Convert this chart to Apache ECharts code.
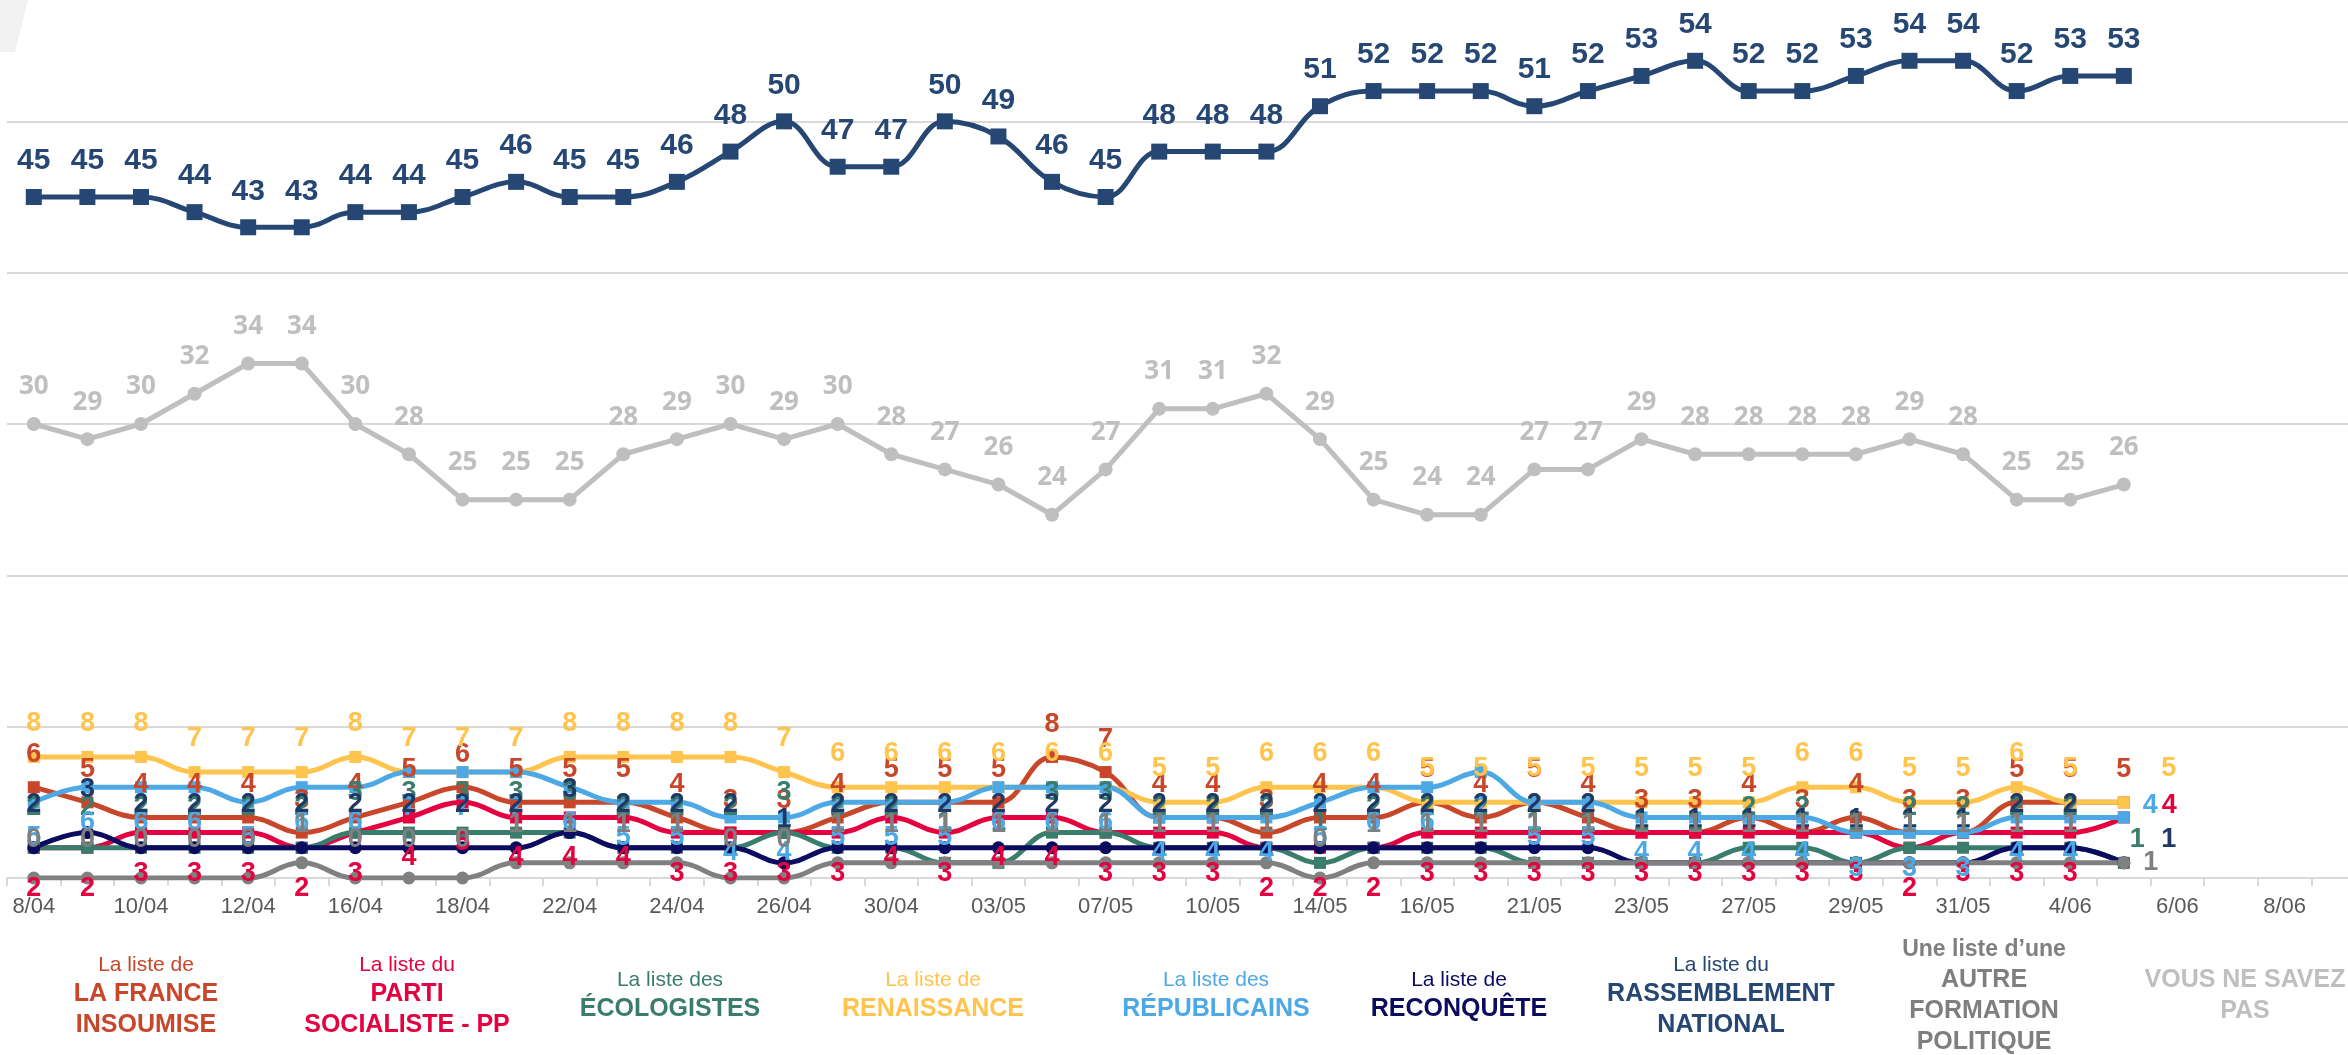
<!DOCTYPE html>
<html>
<head>
<meta charset="utf-8">
<title>Intentions de vote - liste en tête</title>
<script src="https://cdn.jsdelivr.net/npm/echarts@6/dist/echarts.min.js"></script>
<style>
  html, body { margin: 0; padding: 0; background: #fff; }
  #chart { width: 2348px; height: 1055px; }
</style>
</head>
<body>
<div id="chart"></div>
<script>
// vagues (une date sur deux est affichée sur l'axe)
let dates = ['8/04', '9/04', '10/04', '11/04', '12/04', '15/04', '16/04', '17/04', '18/04', '19/04',
  '22/04', '23/04', '24/04', '25/04', '26/04', '29/04', '30/04', '02/05', '03/05', '06/05',
  '07/05', '09/05', '10/05', '13/05', '14/05', '15/05', '16/05', '20/05', '21/05', '22/05',
  '23/05', '24/05', '27/05', '28/05', '29/05', '30/05', '31/05', '3/06', '4/06', '5/06',
  '6/06', '7/06', '8/06', '9/06']

let rn = [45, 45, 45, 44, 43, 43, 44, 44, 45, 46, 45, 45, 46, 48, 50, 47, 47, 50, 49, 46,
  45, 48, 48, 48, 51, 52, 52, 52, 51, 52, 53, 54, 52, 52, 53, 54, 54, 52, 53, 53]
let vnsp = [30, 29, 30, 32, 34, 34, 30, 28, 25, 25, 25, 28, 29, 30, 29, 30, 28, 27, 26, 24,
  27, 31, 31, 32, 29, 25, 24, 24, 27, 27, 29, 28, 28, 28, 28, 29, 28, 25, 25, 26]
let lfi = [6, 5, 4, 4, 4, 3, 4, 5, 6, 5, 5, 5, 4, 3, 3, 4, 5, 5, 5, 8,
  7, 4, 4, 3, 4, 4, 5, 4, 5, 4, 3, 3, 4, 3, 4, 3, 3, 5, 5, 5]
let ps = [2, 2, 3, 3, 3, 2, 3, 4, 5, 4, 4, 4, 3, 3, 3, 3, 4, 3, 4, 4,
  3, 3, 3, 2, 2, 2, 3, 3, 3, 3, 3, 3, 3, 3, 3, 2, 3, 3, 3, 4]
let eelv = [2, 2, 2, 2, 2, 2, 3, 3, 3, 3, 3, 2, 2, 2, 3, 2, 2, 1, 1, 3,
  3, 2, 2, 2, 1, 2, 2, 2, 1, 1, 1, 1, 2, 2, 1, 2, 2, 2, 2, 1]
let ren = [8, 8, 8, 7, 7, 7, 8, 7, 7, 7, 8, 8, 8, 8, 7, 6, 6, 6, 6, 6,
  6, 5, 5, 6, 6, 6, 5, 5, 5, 5, 5, 5, 5, 6, 6, 5, 5, 6, 5, 5]
let lr = [5, 6, 6, 6, 5, 6, 6, 7, 7, 7, 6, 5, 5, 4, 4, 5, 5, 5, 6, 6,
  6, 4, 4, 4, 5, 6, 6, 7, 5, 5, 4, 4, 4, 4, 3, 3, 3, 4, 4, 4]
let rec = [2, 3, 2, 2, 2, 2, 2, 2, 2, 2, 3, 2, 2, 2, 1, 2, 2, 2, 2, 2,
  2, 2, 2, 2, 2, 2, 2, 2, 2, 2, 1, 1, 1, 1, 1, 1, 1, 2, 2, 1]
let autre = [0, 0, 0, 0, 0, 1, 0, 0, 0, 1, 1, 1, 1, 0, 0, 1, 1, 1, 1, 1,
  1, 1, 1, 1, 0, 1, 1, 1, 1, 1, 1, 1, 1, 1, 1, 1, 1, 1, 1, 1]

let legendPrefix = ['La liste de', 'La liste du', 'La liste des', 'La liste de', 'La liste des',
  'La liste de', 'La liste du', 'Une liste d’une', '']
let legendNames = [['LA FRANCE', 'INSOUMISE'], ['PARTI', 'SOCIALISTE - PP'], ['ÉCOLOGISTES'],
  ['RENAISSANCE'], ['RÉPUBLICAINS'], ['RECONQUÊTE'], ['RASSEMBLEMENT', 'NATIONAL'],
  ['AUTRE', 'FORMATION', 'POLITIQUE'], ['VOUS NE SAVEZ', 'PAS']]

let colors = {
  lfi: '#C8462A',
  ps: '#E5003F',
  eelv: '#3A7D6D',
  ren: '#FFC44D',
  lr: '#4DA9E5',
  rec: '#0B0B5F',
  rn: '#264773',
  autre: '#808080',
  vnsp: '#BFBFBF'
}
let legendColors = [colors.lfi, colors.ps, colors.eelv, colors.ren, colors.lr, colors.rec, colors.rn, '#7F7F7F', colors.vnsp]
let legendX = [146, 407, 670, 933, 1216, 1459, 1721, 1984, 2245]

function makeSeries (name, values, color, o) {
  let data = values.map(v => ({ value: v }))
  if (o.last) {
    data[data.length - 1].label = o.last
  }
  return {
    name: name,
    type: 'line',
    data: data,
    smooth: o.smooth === undefined ? 0.4 : o.smooth,
    symbol: o.symbol || 'rect',
    symbolSize: o.size || 12,
    showAllSymbol: true,
    lineStyle: { color: color, width: 5 },
    itemStyle: { color: color },
    label: {
      show: true,
      position: o.pos || 'top',
      distance: o.dist,
      color: o.labelColor || color,
      fontFamily: o.font || 'Liberation Sans',
      fontWeight: 'bold',
      fontSize: o.fontSize || 27
    },
    emphasis: { disabled: true }
  }
}

let series = [
  makeSeries('LFI', lfi, colors.lfi, { dist: 13 }),
  makeSeries('PS', ps, colors.ps, { pos: 'bottom', dist: 21, last: { position: 'right', distance: 32, offset: [0, -12] } }),
  makeSeries('EELV', eelv, colors.eelv, { dist: 21, last: { position: 'right', distance: 0, offset: [0, -23] } }),
  makeSeries('Renaissance', ren, colors.ren, { dist: 14, last: { position: 'top', offset: [45, 0] } }),
  makeSeries('LR', lr, colors.lr, { pos: 'bottom', dist: 16, last: { position: 'right', distance: 13, offset: [0, -12] } }),
  makeSeries('Reconquête', rec, colors.rec, { symbol: 'circle', size: 13, dist: 23, labelColor: '#203864', last: { position: 'right', distance: 31, offset: [0, -23] } }),
  makeSeries('RN', rn, colors.rn, { size: 16, dist: 13, fontSize: 30 }),
  makeSeries('Autre', autre, colors.autre, { symbol: 'circle', size: 13, dist: 18, labelColor: '#7F7F7F', last: { position: 'right', distance: 13, offset: [0, 0] } }),
  makeSeries('NSP', vnsp, colors.vnsp, { symbol: 'circle', size: 14, dist: 17, smooth: false, font: 'Open Sans', fontSize: 26 })
]

let legendItems = legendNames.map((names, i) => {
  let lines = []
  if (legendPrefix[i]) {
    lines.push(i === 7 ? '{p2|' + legendPrefix[i] + '}' : '{p|' + legendPrefix[i] + '}')
  }
  names.forEach(n => lines.push('{b|' + n + '}'))
  return {
    type: 'text',
    x: legendX[i],
    y: 996,
    style: {
      text: lines.join('\n'),
      align: 'center',
      verticalAlign: 'middle',
      rich: {
        p: { fontFamily: 'Liberation Sans', fontSize: 21, lineHeight: 27, fill: legendColors[i], align: 'center' },
        p2: { fontFamily: 'Liberation Sans', fontSize: 23, fontWeight: 'bold', lineHeight: 31, fill: legendColors[i], align: 'center' },
        b: { fontFamily: 'Liberation Sans', fontSize: 25, fontWeight: 'bold', lineHeight: 31, fill: legendColors[i], align: 'center' }
      }
    }
  }
})

let chart = echarts.init(document.getElementById('chart'))
let option = {
  animation: false,
  backgroundColor: '#fff',
  grid: {
    left: 7,
    top: -30,
    width: 2358,
    height: 908,
    outerBoundsMode: 'none'
  },
  xAxis: {
    type: 'category',
    data: dates,
    boundaryGap: true,
    axisLine: { lineStyle: { color: '#D9D9D9', width: 2 } },
    axisTick: { show: true, interval: 0, length: 8, lineStyle: { color: '#D9D9D9', width: 2 } },
    axisLabel: {
      interval: 1,
      margin: 18,
      color: '#595959',
      fontFamily: 'Liberation Sans',
      fontSize: 22
    },
    splitLine: { show: false }
  },
  yAxis: {
    type: 'value',
    min: 0,
    max: 60,
    interval: 10,
    axisLine: { show: false },
    axisTick: { show: false },
    axisLabel: { show: false },
    splitLine: { lineStyle: { color: '#D9D9D9', width: 2 } }
  },
  graphic: [
    {
      type: 'polygon',
      shape: { points: [[0, 0], [28, 0], [15, 52], [0, 52]] },
      style: { fill: '#F2F2F2' }
    }
  ].concat(legendItems),
  series: series
}
chart.setOption(option)
</script>
</body>
</html>
